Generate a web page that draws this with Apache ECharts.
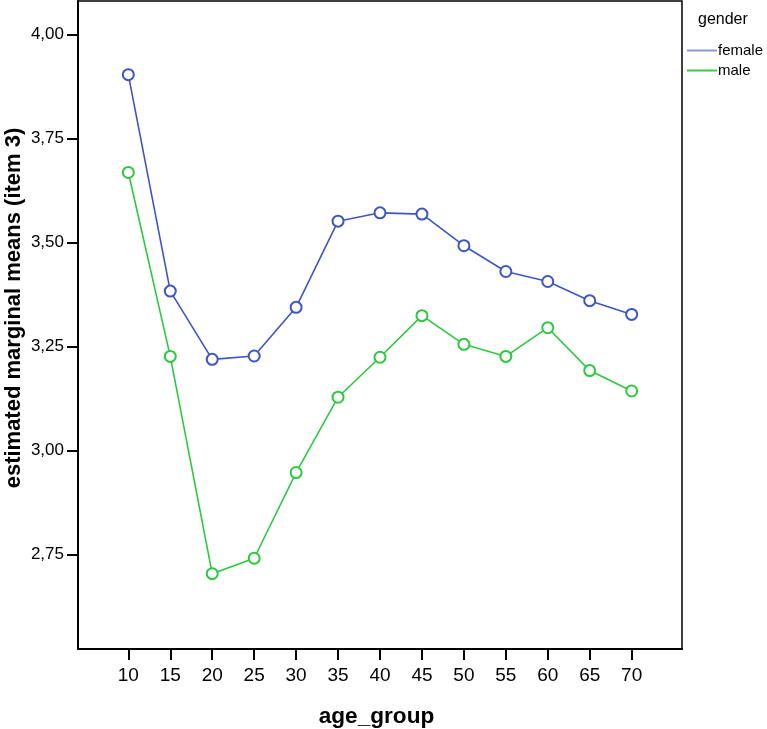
<!DOCTYPE html>
<html>
<head>
<meta charset="utf-8">
<script src="https://cdn.jsdelivr.net/npm/echarts@6/dist/echarts.min.js"></script>
<style>html,body{margin:0;padding:0;background:#fff}#c{width:767px;height:729px}</style>
</head>
<body>
<div id="c"></div>
<script>
var ageGroups = [10, 15, 20, 25, 30, 35, 40, 45, 50, 55, 60, 65, 70];
var female = [3.903, 3.383, 3.219, 3.227, 3.344, 3.551, 3.571, 3.568, 3.492, 3.430, 3.406, 3.360, 3.327];
var male = [3.668, 3.226, 2.704, 2.741, 2.947, 3.128, 3.224, 3.324, 3.255, 3.226, 3.295, 3.192, 3.143];
var yTicks = [2.75, 3.00, 3.25, 3.50, 3.75, 4.00];
var xTicks = [10, 15, 20, 25, 30, 35, 40, 45, 50, 55, 60, 65, 70];

function pairs(vals) { return ageGroups.map(function (a, i) { return [a, vals[i]]; }); }

var chart = echarts.init(document.getElementById('c'));
var font = 'Liberation Sans, Arial, sans-serif';
chart.setOption({
  animation: false,
  backgroundColor: '#fff',
  grid: { left: 78, right: 85, top: 1, bottom: 80, containLabel: false, outerBoundsMode: 'none',
    show: true, borderColor: '#000', borderWidth: 1.5, backgroundColor: 'transparent' },
  xAxis: {
    type: 'value', min: 4, max: 76,
    name: 'age_group', nameLocation: 'middle', nameGap: 56, nameMoveOverlap: false,
    nameTextStyle: { fontFamily: font, fontSize: 22.6, fontWeight: 'bold', color: '#000', padding: [0, 7, 0, 0] },
    axisLine: { show: true, lineStyle: { color: '#000', width: 2 } },
    axisTick: { show: true, length: 11, lineStyle: { color: '#000', width: 2 }, customValues: xTicks },
    axisLabel: { fontFamily: font, fontSize: 19, color: '#000', margin: 17, customValues: xTicks },
    splitLine: { show: false }
  },
  yAxis: {
    type: 'value', min: 2.523, max: 4.08,
    name: 'estimated marginal means (item 3)', nameLocation: 'middle', nameGap: 53, nameMoveOverlap: false,
    nameTextStyle: { fontFamily: font, fontSize: 22, fontWeight: 'bold', color: '#000', padding: [0, 0, 0, 34] },
    axisLine: { show: true, lineStyle: { color: '#000', width: 2 } },
    axisTick: { show: true, length: 11, lineStyle: { color: '#000', width: 2 }, customValues: yTicks },
    axisLabel: { fontFamily: font, fontSize: 17, color: '#000', margin: 14, customValues: yTicks,
      formatter: function (v) { return v.toFixed(2).replace('.', ','); } },
    splitLine: { show: false }
  },
  legend: {
    orient: 'vertical', left: 687, top: 43, itemGap: 5, padding: 0,
    icon: 'rect', itemWidth: 30, itemHeight: 2,
    textStyle: { fontFamily: font, fontSize: 15, color: '#000', padding: [0, 0, 0, -4] },
    data: [
      { name: 'female', itemStyle: { color: '#8a9ad8' } },
      { name: 'male', itemStyle: { color: '#3ec848' } }
    ]
  },
  graphic: [{ type: 'text', left: 698, top: 12, style: { text: 'gender', font: '16px ' + font, fill: '#000' } }],
  series: [
    { name: 'female', type: 'line', data: pairs(female), symbol: 'emptyCircle', symbolSize: 11,
      lineStyle: { color: '#3d56c4', width: 1.6 }, itemStyle: { color: '#3d56c4', borderWidth: 1.6 } },
    { name: 'male', type: 'line', data: pairs(male), symbol: 'emptyCircle', symbolSize: 11,
      lineStyle: { color: '#2ec840', width: 1.6 }, itemStyle: { color: '#2ec840', borderWidth: 1.6 } }
  ]
});
</script>
</body>
</html>
